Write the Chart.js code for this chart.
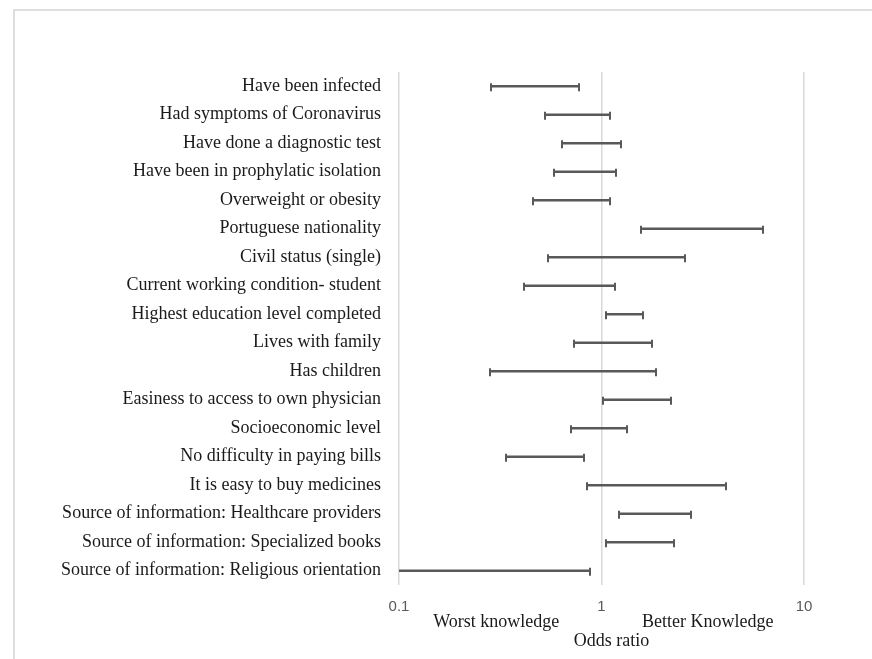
<!DOCTYPE html>
<html>
<head>
<meta charset="utf-8">
<script src="https://cdn.jsdelivr.net/npm/chart.js@4.4.1/dist/chart.umd.min.js"></script>
<style>
    html, body { margin: 0; padding: 0; background: #fff; }
    #wrap { position: relative; width: 872px; height: 659px; overflow: hidden; }
    #frame { position: absolute; left: 13px; top: 9px; width: 900px; height: 700px;
             border-left: 2px solid #dedede; border-top: 2px solid #dedede; }
    canvas { position: absolute; left: 0; top: 0; }
</style>
</head>
<body>
<div id="wrap">
    <div id="frame"></div>
    <canvas id="or-chart" width="872" height="659"></canvas>
</div>
<script>
const factors = [
    "Have been infected",
    "Had symptoms of Coronavirus",
    "Have done a diagnostic test",
    "Have been in prophylatic isolation",
    "Overweight or obesity",
    "Portuguese nationality",
    "Civil status (single)",
    "Current working condition- student",
    "Highest education level completed",
    "Lives with family",
    "Has children",
    "Easiness to access to own physician",
    "Socioeconomic level",
    "No difficulty in paying bills",
    "It is easy to buy medicines",
    "Source of information: Healthcare providers",
    "Source of information: Specialized books",
    "Source of information: Religious orientation"
];
const lowerCI = [0.285, 0.528, 0.638, 0.582, 0.458, 1.57, 0.544, 0.416, 1.058, 0.729, 0.281, 1.015, 0.705, 0.339, 0.846, 1.214, 1.054, 0.08];
const upperCI = [0.778, 1.103, 1.25, 1.181, 1.099, 6.24, 2.59, 1.168, 1.596, 1.774, 1.857, 2.21, 1.33, 0.820, 4.12, 2.755, 2.28, 0.882];
const xTicks = [0.1, 1, 10];

const lineColor = "#595959";
const serif = "'Liberation Serif', 'DejaVu Serif', serif";

// caps at both ends of every interval
const capsPlugin = {
    id: "caps",
    afterDatasetsDraw(chart) {
        const ctx = chart.ctx;
        const x = chart.scales.x;
        const y = chart.scales.y;
        ctx.save();
        ctx.strokeStyle = lineColor;
        ctx.lineWidth = 2;
        factors.forEach((f, i) => {
            const cy = y.getPixelForValue(i) + 1;
            [lowerCI[i], upperCI[i]].forEach(v => {
                if (v < x.min || v > x.max) return;
                const px = Math.round(x.getPixelForValue(v));
                ctx.beginPath();
                ctx.moveTo(px, cy - 4);
                ctx.lineTo(px, cy + 4);
                ctx.stroke();
            });
        });
        ctx.restore();
    }
};

const axisNotes = {
    id: "axisNotes",
    afterDraw(chart) {
        const ctx = chart.ctx;
        const x = chart.scales.x;
        const bottom = chart.chartArea.bottom;
        ctx.save();
        ctx.fillStyle = "#1a1a1a";
        ctx.font = "18px " + serif;
        ctx.textAlign = "center";
        ctx.textBaseline = "middle";
        ctx.fillText("Worst knowledge", x.getPixelForValue(0.316) - 4, bottom + 37);
        ctx.fillText("Better Knowledge", x.getPixelForValue(3.16) + 5, bottom + 37);
        ctx.fillText("Odds ratio", x.getPixelForValue(1) + 10, bottom + 56);
        ctx.restore();
    }
};

const ctx = document.getElementById("or-chart").getContext("2d");
new Chart(ctx, {
    type: "bar",
    data: {
        labels: factors,
        datasets: [{
            data: factors.map((f, i) => [lowerCI[i], upperCI[i]]),
            backgroundColor: lineColor,
            borderWidth: 0,
            barThickness: 2
        }]
    },
    options: {
        responsive: false,
        animation: false,
        indexAxis: "y",
        layout: { padding: { top: 72, right: 68, left: 0, bottom: 0 } },
        plugins: { legend: { display: false }, tooltip: { enabled: false } },
        scales: {
            x: {
                type: "logarithmic",
                min: 0.1,
                max: 10,
                afterBuildTicks: scale => { scale.ticks = xTicks.map(v => ({ value: v })); },
                afterFit: scale => { scale.height = 74; },
                ticks: {
                    callback: value => String(value),
                    color: lineColor,
                    font: { family: "'Liberation Sans', Arial, sans-serif", size: 15 },
                    padding: 13,
                    maxRotation: 0
                },
                grid: { color: "#d9d9d9", lineWidth: 1.5, drawTicks: false },
                border: { display: false }
            },
            y: {
                afterFit: scale => { scale.width = 399; },
                ticks: {
                    color: "#1a1a1a",
                    font: { family: serif, size: 18 },
                    padding: 18,
                    autoSkip: false
                },
                grid: { display: false, drawTicks: false },
                border: { display: false }
            }
        }
    },
    plugins: [capsPlugin, axisNotes]
});
</script>
</body>
</html>
